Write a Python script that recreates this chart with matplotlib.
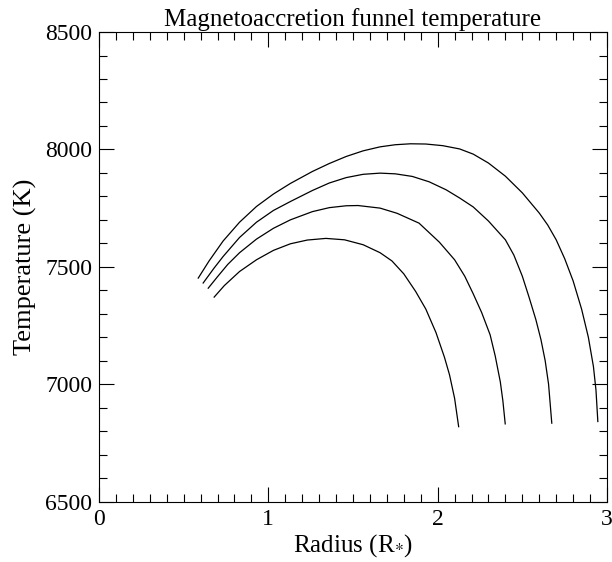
import numpy as np
import matplotlib
matplotlib.use("Agg")
from matplotlib import pyplot as plt
from matplotlib.ticker import MultipleLocator

# radius (R*) and temperature (K)
r1 = [0.68, 0.74, 0.83, 0.93, 1.03, 1.13, 1.23, 1.34, 1.45, 1.56, 1.66, 1.73, 1.80, 1.87, 1.93, 1.99, 2.04, 2.07, 2.10, 2.124]
t1 = [7371, 7420, 7480, 7530, 7570, 7598, 7614, 7621, 7615, 7594, 7560, 7525, 7470, 7395, 7320, 7220, 7115, 7040, 6940, 6819]
r2 = [0.645, 0.70, 0.76, 0.83, 0.93, 1.03, 1.13, 1.26, 1.36, 1.46, 1.53, 1.66, 1.76, 1.89, 2.01, 2.10, 2.16, 2.21, 2.26, 2.31, 2.34, 2.37, 2.385, 2.399]
t2 = [7409, 7458, 7510, 7560, 7618, 7664, 7700, 7735, 7752, 7760, 7761, 7750, 7728, 7686, 7605, 7530, 7460, 7385, 7305, 7210, 7120, 7010, 6930, 6831]
r3 = [0.615, 0.68, 0.733, 0.83, 0.93, 1.03, 1.13, 1.26, 1.36, 1.46, 1.56, 1.66, 1.75, 1.85, 1.95, 2.05, 2.13, 2.21, 2.30, 2.40, 2.45, 2.50, 2.54, 2.58, 2.61, 2.635, 2.655, 2.674]
t3 = [7431, 7495, 7544, 7625, 7690, 7740, 7778, 7825, 7857, 7880, 7894, 7899, 7896, 7885, 7862, 7828, 7793, 7755, 7695, 7615, 7550, 7460, 7370, 7275, 7190, 7100, 7000, 6834]
r4 = [0.586, 0.65, 0.733, 0.83, 0.93, 1.03, 1.13, 1.26, 1.36, 1.46, 1.56, 1.66, 1.75, 1.84, 1.93, 2.03, 2.13, 2.21, 2.30, 2.40, 2.50, 2.60, 2.65, 2.70, 2.75, 2.80, 2.85, 2.89, 2.92, 2.935, 2.946]
t4 = [7452, 7525, 7610, 7690, 7757, 7810, 7855, 7906, 7940, 7970, 7994, 8011, 8020, 8024, 8023, 8016, 8002, 7980, 7942, 7886, 7815, 7729, 7678, 7615, 7535, 7440, 7320, 7200, 7075, 6975, 6841]

plt.rcParams['font.family'] = ['Liberation Serif', 'DejaVu Serif']
plt.rcParams['mathtext.fontset'] = 'stix'

fig = plt.figure(figsize=(6.12, 5.62), dpi=100)
ax = fig.add_axes([0.1618, 0.1075, 0.83, 0.8355])

for r, t in [(r1, t1), (r2, t2), (r3, t3), (r4, t4)]:
    ax.plot(r, t, color='black', lw=0.9)

ax.set_xlim(0, 3)
ax.set_ylim(6500, 8500)
ax.xaxis.set_major_locator(MultipleLocator(1))
ax.xaxis.set_minor_locator(MultipleLocator(0.1))
ax.yaxis.set_major_locator(MultipleLocator(500))
ax.yaxis.set_minor_locator(MultipleLocator(100))
ax.tick_params(which='both', direction='in', top=True, right=True, width=0.8, labelsize=17)
ax.tick_params(which='major', length=11, pad=5)
ax.tick_params(which='minor', length=6)
for s in ax.spines.values():
    s.set_linewidth(0.8)

ax.set_title('Magnetoaccretion funnel temperature', fontsize=18, pad=4)
ax.set_xlabel('Radius (R$_{*}$)', fontsize=18, labelpad=2)
ax.set_ylabel('Temperature (K)', fontsize=19, labelpad=6)

fig.savefig('out.png', dpi=100)
